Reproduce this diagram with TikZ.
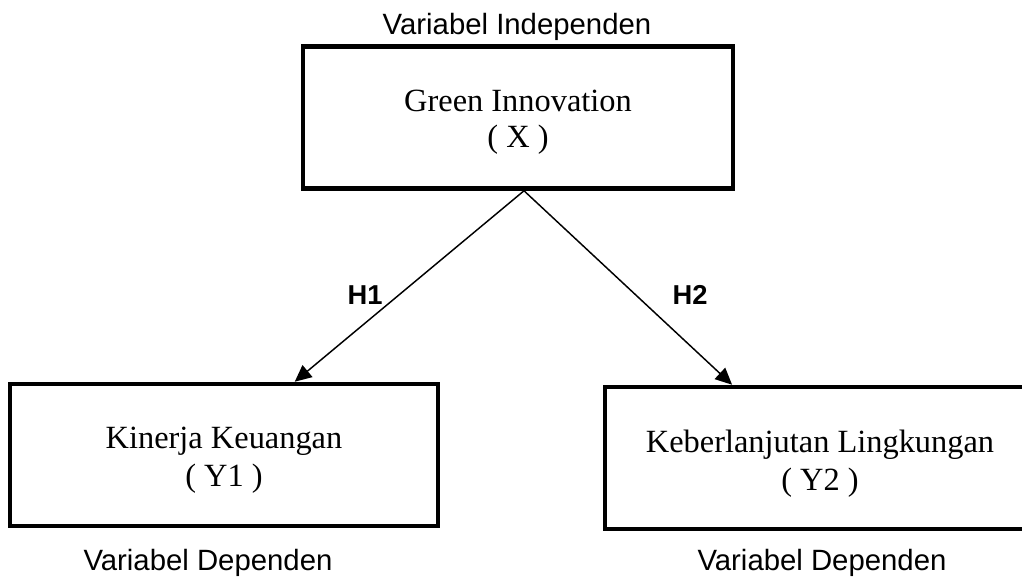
\documentclass[tikz,border=0pt]{standalone}
\usepackage{fontspec}
\setmainfont{Liberation Serif}
\setsansfont{Liberation Sans}
\usetikzlibrary{arrows.meta}
\tikzset{
  varbox/.style={draw=black, line width=3.4pt, minimum width=#1, inner sep=0pt, minimum height=106.5pt},
  boxtext/.style={font=\rmfamily\fontsize{24.3}{28}\selectfont, anchor=base, inner sep=0pt},
  lbl/.style={font=\sffamily\fontsize{22}{25}\selectfont, anchor=base, inner sep=0pt},
  hyp/.style={font=\sffamily\bfseries\fontsize{20.5}{24}\selectfont, anchor=base, inner sep=0pt},
  link/.style={line width=1.1pt, -{Triangle[length=12.5pt,width=11.5pt]}}
}
\begin{document}
\begin{tikzpicture}[x=0.75pt, y=-0.75pt]
\clip (0,0) rectangle (1022,581);
\useasboundingbox (0,0) rectangle (1022,581);
% boxes
\node[varbox=322.5pt] (x) at (518,117.5) {};
\node[varbox=321pt] (y1) at (224,455) {};
\node[varbox=324pt] (y2) at (821,458) {};
% box texts
\node[boxtext] (xt1) at (518,112) {Green Innovation};
\node[boxtext] (xt2) at (518,148) {( X )};
\node[boxtext] (y1t1) at (224,448) {Kinerja Keuangan};
\node[boxtext] (y1t2) at (224,486) {( Y1 )};
\node[boxtext] (y2t1) at (820,452) {Keberlanjutan Lingkungan};
\node[boxtext] (y2t2) at (820,490) {( Y2 )};
% labels
\node[lbl] (li) at (517,35) {Variabel Independen};
\node[lbl] (ld1) at (208,570) {Variabel Dependen};
\node[lbl] (ld2) at (822,570) {Variabel Dependen};
\node[hyp] (h1) at (365,305) {H1};
\node[hyp] (h2) at (690,305) {H2};
% connectors
\coordinate (apex) at ([xshift=4.5pt]x.south);
\draw[link] (apex) -- ([xshift=215.25pt]y1.north west);
\draw[link] (apex) -- ([xshift=97pt]y2.north west);
\end{tikzpicture}
\end{document}
